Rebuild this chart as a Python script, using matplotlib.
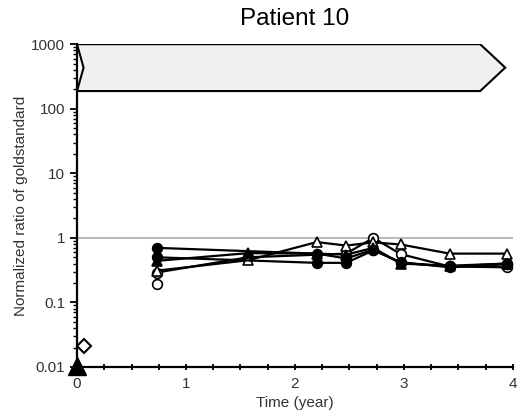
import math
import matplotlib
matplotlib.use('Agg')
import matplotlib.pyplot as plt
from matplotlib.patches import Polygon
from matplotlib.ticker import FixedLocator, LogLocator, NullFormatter

plt.rcParams['font.family'] = ['Liberation Sans', 'DejaVu Sans']

# measurements per marker series (time in years, normalized ratio)
t_fc1 = [0.73, 2.2, 2.47, 2.72, 2.97, 3.42, 3.95]
v_fc1 = [0.70, 0.57, 0.48, 0.66, 0.41, 0.36, 0.40]

t_fc2 = [0.73, 2.2, 2.47, 2.72, 2.97, 3.42, 3.95]
v_fc2 = [0.50, 0.41, 0.41, 0.64, 0.42, 0.35, 0.39]

t_ft = [0.73, 1.57, 2.2, 2.47, 2.72, 2.97, 3.42, 3.95]
v_ft = [0.44, 0.58, 0.57, 0.55, 0.70, 0.40, 0.37, 0.40]

t_ot = [0.73, 1.57, 2.2, 2.47, 2.72, 2.97, 3.42, 3.95]
v_ot = [0.31, 0.45, 0.86, 0.76, 0.85, 0.79, 0.57, 0.57]

t_oc = [0.73, 0.73, 1.57, 2.47, 2.72, 2.97, 3.42, 3.95]
v_oc = [0.19, 0.29, 0.50, 0.57, 1.0, 0.56, 0.36, 0.35]

# early baseline points
t_dia = [0.06]
v_dia = [0.021]
t_base = [0.0]
v_base = [0.0105]

# treatment period arrow (years, ratio)
arrow_start = 0.0
arrow_notch = 0.06
arrow_body_end = 3.70
arrow_tip = 3.93
arrow_low = 188
arrow_high = 1000

xticks = [0, 1, 2, 3, 4]
yticks = [0.01, 0.1, 1, 10, 100, 1000]
ylabels = ['0.01', '0.1', '1', '10', '100', '1000']

fig = plt.figure(figsize=(5.17, 4.17), dpi=100)
ax = fig.add_axes([0.149, 0.120, 0.843, 0.774])
ax.set_yscale('log')
ax.set_xlim(0, 4)
ax.set_ylim(0.01, 1000)

# reference line at ratio 1
ax.axhline(1, color='#b4b4b4', lw=1.3, zorder=1)

mid = 10 ** ((math.log10(arrow_low) + math.log10(arrow_high)) / 2)
arrow = Polygon([(arrow_start, arrow_high), (arrow_body_end, arrow_high), (arrow_tip, mid),
                 (arrow_body_end, arrow_low), (arrow_start, arrow_low), (arrow_notch, mid)],
                closed=True, facecolor='#f0f0f0', edgecolor='black', lw=1.5, zorder=2)
ax.add_patch(arrow)

lkw = dict(color='black', lw=1.6, ms=7, mew=1.2, clip_on=False, zorder=3)
ax.plot(t_oc, v_oc, marker='o', mfc='white', mec='black', **lkw)
ax.plot(t_ot, v_ot, marker='^', mfc='white', mec='black', **lkw)
ax.plot(t_fc2, v_fc2, marker='o', mfc='black', mec='black', **lkw)
ax.plot(t_ft, v_ft, marker='^', mfc='black', mec='black', **lkw)
ax.plot(t_fc1, v_fc1, marker='o', mfc='black', mec='black', **lkw)
ax.plot(t_dia, v_dia, ls='none', marker='D', ms=7, mfc='white', mec='black', mew=1.5,
        clip_on=False, zorder=4)
ax.plot(t_base, v_base, ls='none', marker='^', ms=13, mfc='black', mec='black',
        clip_on=False, zorder=4)

for s in ['top', 'right']:
    ax.spines[s].set_visible(False)
for s in ['left', 'bottom']:
    ax.spines[s].set_linewidth(1.6)

ax.set_xticks(xticks)
ax.xaxis.set_minor_locator(FixedLocator([i * 0.25 for i in range(17)]))
ax.set_yticks(yticks)
ax.set_yticklabels(ylabels)
ax.yaxis.set_minor_locator(LogLocator(base=10, subs=range(2, 10)))
ax.yaxis.set_minor_formatter(NullFormatter())
ax.tick_params(axis='x', which='both', direction='inout', length=5, width=1.3,
               labelsize=11, colors='black', labelcolor='#333333', pad=5)
ax.tick_params(axis='x', which='minor', length=4)
ax.tick_params(axis='y', which='major', direction='out', length=5, width=1.3,
               labelsize=11, labelcolor='#333333')
ax.tick_params(axis='y', which='minor', direction='out', length=3, width=1.0)

ax.set_xlabel('Time (year)', fontsize=11, color='#333333', labelpad=3)
ax.set_ylabel('Normalized ratio of goldstandard', fontsize=11, color='#333333', labelpad=2)
ax.set_title('Patient 10', fontsize=17.5, pad=14)

fig.savefig('out.png', dpi=100)
